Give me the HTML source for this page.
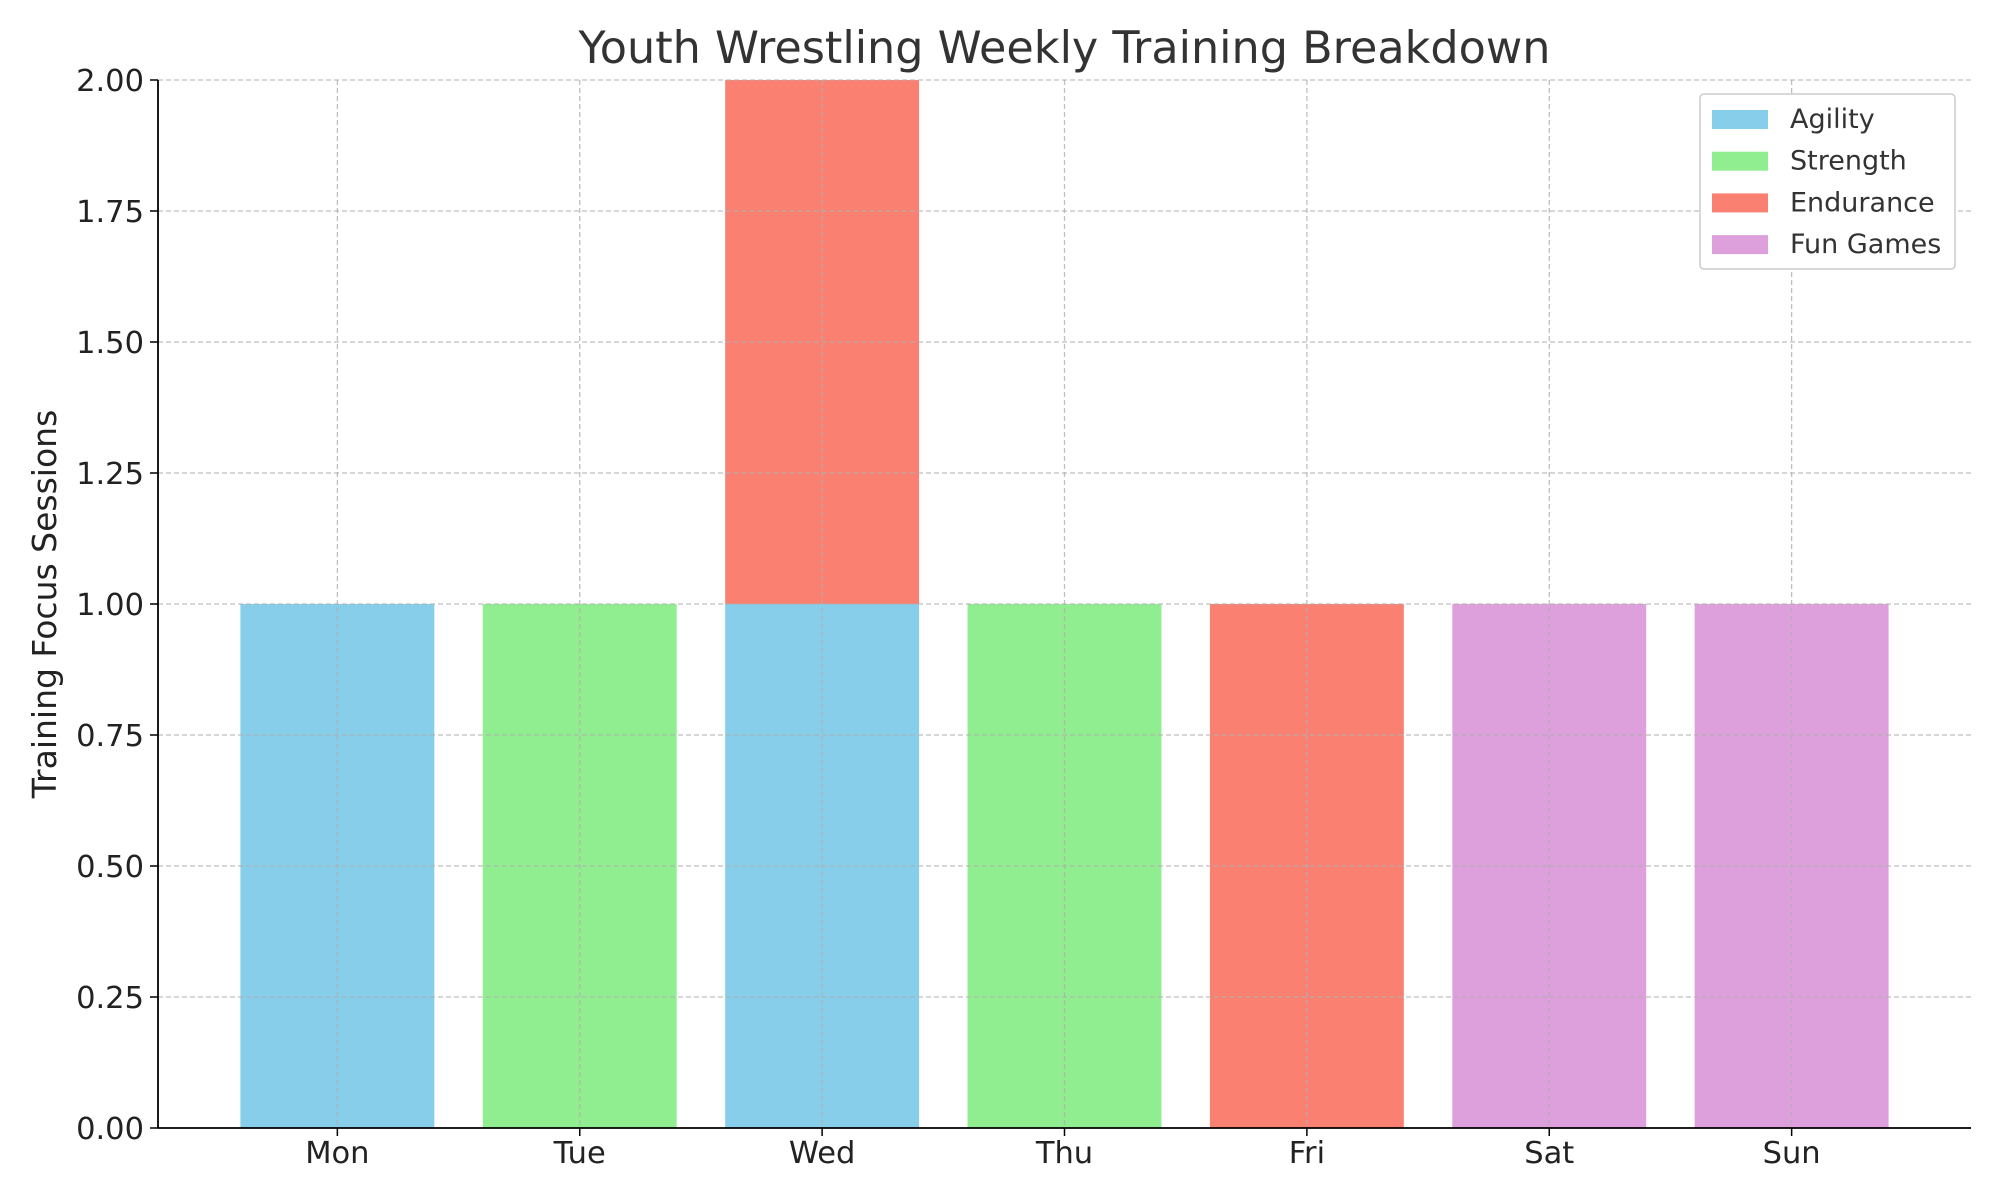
<!DOCTYPE html>
<html><head><meta charset="utf-8"><style>
html,body{margin:0;padding:0;background:#fff;}
svg{display:block;font-family:"DejaVu Sans","Liberation Sans",sans-serif;}
</style></head><body>
<svg id="chart" width="2000" height="1200"></svg>
<script>
const days = ["Mon","Tue","Wed","Thu","Fri","Sat","Sun"];
const seriesNames = ["Agility","Strength","Endurance","Fun Games"];
const agility = [1,0,1,0,0,0,0];
const strength = [0,1,0,1,0,0,0];
const endurance = [0,0,1,0,1,0,0];
const funGames = [0,0,0,0,0,1,1];
const yTicks = [0,0.25,0.5,0.75,1.0,1.25,1.5,1.75,2.0];
const colors = ["#87CEEB","#90EE90","#FA8072","#DDA0DD"];
const series = [agility,strength,endurance,funGames];

const NS="http://www.w3.org/2000/svg";
const svg=document.getElementById('chart');
const L=158,R=1971,T=80,B=1128;
const xmin=-0.74,xmax=6.74,ymin=0,ymax=2;
const xs=v=>L+(v-xmin)/(xmax-xmin)*(R-L);
const ys=v=>B-(v-ymin)/(ymax-ymin)*(B-T);
function mk(tag,attrs,parent){const e=document.createElementNS(NS,tag);for(const k in attrs)e.setAttribute(k,attrs[k]);(parent||svg).appendChild(e);return e;}

series.forEach((s,si)=>{
  s.forEach((v,i)=>{
    if(!v)return;
    let base=0;for(let j=0;j<si;j++)base+=series[j][i];
    const r=mk('rect',{x:xs(i-0.4),y:ys(base+v),width:xs(i+0.4)-xs(i-0.4),height:ys(base)-ys(base+v),fill:colors[si]});
    
    
  });
});
yTicks.forEach(t=>{
  const g=mk('line',{x1:L,x2:R,y1:ys(t),y2:ys(t),stroke:'#b0b0b0','stroke-width':1.3,'stroke-dasharray':'5,3',opacity:0.8});
  
  
  const tk=mk('line',{x1:L-8,x2:L,y1:ys(t),y2:ys(t),stroke:'#000','stroke-width':1.5});
  
  
  const tx=mk('text',{x:L-14,y:ys(t)+11,'text-anchor':'end','font-size':30.5,fill:'#222'});
  tx.textContent=t.toFixed(2);
  
  
});
days.forEach((d,i)=>{
  const g=mk('line',{x1:xs(i),x2:xs(i),y1:T,y2:B,stroke:'#b0b0b0','stroke-width':1.3,'stroke-dasharray':'5,3',opacity:0.8});
  
  
  const tk=mk('line',{x1:xs(i),x2:xs(i),y1:B,y2:B+8,stroke:'#000','stroke-width':1.5});
  
  
  const tx=mk('text',{x:xs(i),y:B+35,'text-anchor':'middle','font-size':30.5,fill:'#222'});
  tx.textContent=d;
  
  
});
const ax1=mk('line',{x1:L,x2:L,y1:T,y2:B,stroke:'#000','stroke-width':1.8});


const ax2=mk('line',{x1:L,x2:R,y1:B,y2:B,stroke:'#000','stroke-width':1.8});


const ti=mk('text',{x:(L+R)/2,y:63,'text-anchor':'middle','font-size':44.5,fill:'#333'});
ti.textContent='Youth Wrestling Weekly Training Breakdown';


const yl=mk('text',{x:0,y:0,'text-anchor':'middle','font-size':33,fill:'#222',transform:`translate(56,${(T+B)/2}) rotate(-90)`});
yl.textContent='Training Focus Sessions';


const lg=mk('g',{});


mk('rect',{x:1700,y:94,width:255,height:175,rx:4,fill:'#fff',stroke:'#ccc','stroke-width':1.5},lg);
seriesNames.forEach((n,i)=>{
  const y=119+i*41.7;
  const sw=mk('rect',{x:1712,y:y-9,width:56,height:19,fill:colors[i]},lg);
  
  
  const t=mk('text',{x:1790,y:y+9,'font-size':27,fill:'#333'},lg);
  t.textContent=n;
  
  
});
</script>
</body></html>
